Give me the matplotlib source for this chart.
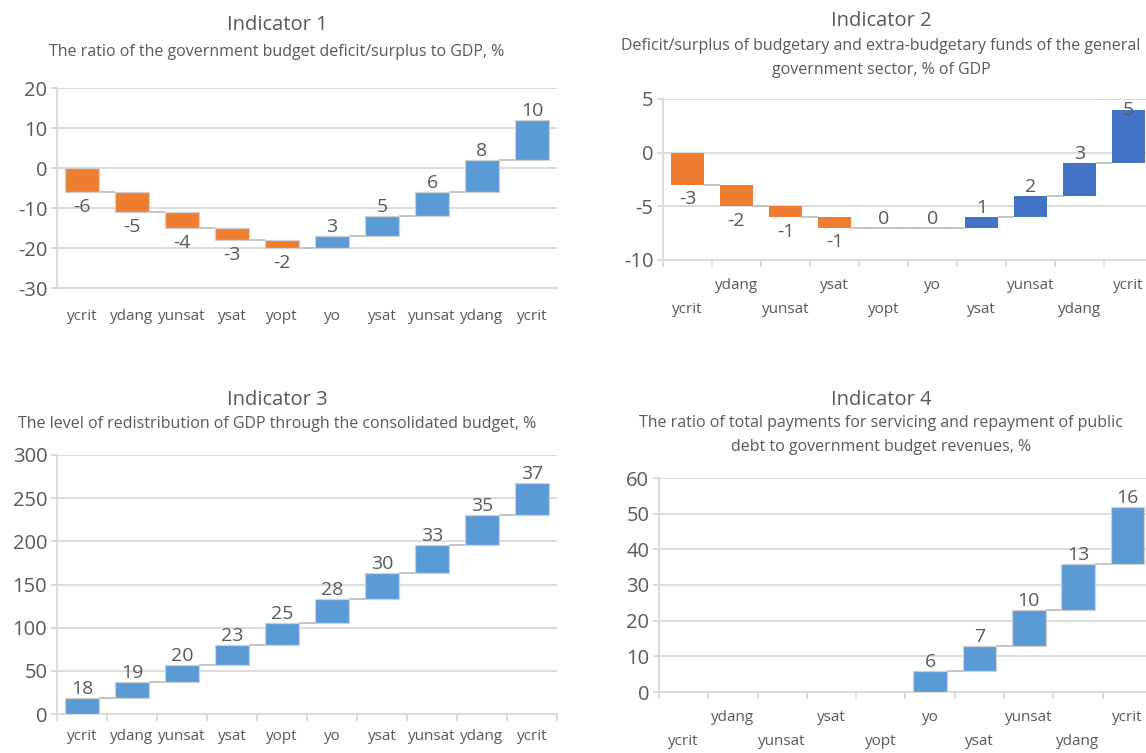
import matplotlib
matplotlib.use('Agg')
import matplotlib.pyplot as plt
import numpy as np

plt.rcParams['font.family'] = ['Open Sans', 'DejaVu Sans']

W, H = 1146, 753

categories = ['ycrit', 'ydang', 'yunsat', 'ysat', 'yopt', 'yo', 'ysat', 'yunsat', 'ydang', 'ycrit']

ind1_values = [-6, -5, -4, -3, -2, 3, 5, 6, 8, 10]
ind2_values = [-3, -2, -1, -1, 0, 0, 1, 2, 3, 5]
ind3_values = [18, 19, 20, 23, 25, 28, 30, 33, 35, 37]
ind4_values = [0, 0, 0, 0, 0, 6, 7, 10, 13, 16]

ind1_yticks = [-30, -20, -10, 0, 10, 20]
ind2_yticks = [-10, -5, 0, 5]
ind3_yticks = [0, 50, 100, 150, 200, 250, 300]
ind4_yticks = [0, 10, 20, 30, 40, 50, 60]

titles = ['Indicator 1', 'Indicator 2', 'Indicator 3', 'Indicator 4']
subtitles = [
    'The ratio of the government budget deficit/surplus to GDP, %',
    'Deficit/surplus of budgetary and extra-budgetary funds of the general\ngovernment sector, % of GDP',
    'The level of redistribution of GDP through the consolidated budget, %',
    'The ratio of total payments for servicing and repayment of public\ndebt to government budget revenues, %',
]

ORANGE = '#ED7D31'
BLUE = '#5B9BD5'
DBLUE = '#4472C4'
TXT = '#595959'
GRID = '#D9D9D9'


def px_box(l, r, t, b):
    return [l / W, 1 - b / H, (r - l) / W, (b - t) / H]


def waterfall(ax, values, yticks, pos_color, edge, show_zero=True,
              stagger=False, xticks_marks=True, label_pad=16):
    vals = np.array(values, dtype=float)
    ends = np.cumsum(vals)
    starts = ends - vals
    x = np.arange(len(vals))
    colors = [ORANGE if v < 0 else pos_color for v in vals]
    ax.bar(x, vals, bottom=starts, width=0.68, color=colors,
           edgecolor=edge, linewidth=0.9 if edge != 'none' else 0, zorder=3)
    # connectors
    for i in range(len(vals) - 1):
        ax.plot([x[i] + 0.34, x[i + 1] - 0.34], [ends[i], ends[i]],
                color='#BFBFBF', lw=1.3, zorder=2, solid_capstyle='butt')
    # zero-height bars show as a flat line
    for i, v in enumerate(vals):
        if v == 0:
            ax.plot([x[i] - 0.34, x[i] + 0.34], [ends[i], ends[i]],
                    color='#BFBFBF', lw=1.3, zorder=2)
    ymax = yticks[-1]
    for i, v in enumerate(vals):
        if v == 0 and not show_zero:
            continue
        if v < 0:
            ax.annotate(f'{int(v)}', (x[i], ends[i]), xytext=(0, -4),
                        textcoords='offset points', ha='center', va='top',
                        fontsize=14, color=TXT, zorder=4)
        else:
            top = ends[i]
            if top + (ymax - yticks[0]) * 0.08 > ymax:
                ax.annotate(f'{int(v)}', (x[i], top), ha='center', va='center',
                            fontsize=14, color=TXT, zorder=4)
            else:
                ax.annotate(f'{int(v)}', (x[i], top), xytext=(0, 0),
                            textcoords='offset points', ha='center', va='bottom',
                            fontsize=14, color=TXT, zorder=4)
    ax.set_xlim(-0.5, len(vals) - 0.5)
    ax.set_ylim(yticks[0], yticks[-1])
    ax.set_yticks(yticks)
    ax.set_yticklabels([str(t) for t in yticks])
    ax.tick_params(axis='y', labelsize=14.5, colors=GRID, labelcolor=TXT,
                   length=4, width=1.3, pad=3)
    ax.set_xticks(x)
    ax.set_xticklabels(categories)
    ax.tick_params(axis='x', which='major', length=0, labelsize=11,
                   labelcolor=TXT, pad=label_pad)
    if xticks_marks:
        ax.set_xticks(np.arange(len(vals) + 1) - 0.5, minor=True)
        ax.tick_params(axis='x', which='minor', length=5, width=1.3, colors=GRID)
    if stagger:
        for i, tk in enumerate(ax.xaxis.get_major_ticks()):
            tk.set_pad(label_pad if i % 2 == 1 else label_pad + 17)
    ax.grid(axis='y', color=GRID, lw=1.3, zorder=0)
    ax.set_axisbelow(True)
    for s in ['top', 'right']:
        ax.spines[s].set_visible(False)
    ax.spines['left'].set_color(GRID)
    ax.spines['left'].set_linewidth(1.3)
    ax.spines['bottom'].set_color(GRID)
    ax.spines['bottom'].set_linewidth(1.3)


fig = plt.figure(figsize=(W / 100, H / 100), dpi=100)

ax1 = fig.add_axes(px_box(57, 557, 88, 288))
waterfall(ax1, ind1_values, ind1_yticks, BLUE, '#D0D0D0', xticks_marks=False, label_pad=15)

ax2 = fig.add_axes(px_box(663, 1153, 99, 260))
waterfall(ax2, ind2_values, ind2_yticks, DBLUE, 'none', stagger=True, label_pad=13)

ax3 = fig.add_axes(px_box(57, 557, 455, 714))
waterfall(ax3, ind3_values, ind3_yticks, BLUE, '#D0D0D0', label_pad=11)

ax4 = fig.add_axes(px_box(659, 1152, 478, 692))
waterfall(ax4, ind4_values, ind4_yticks, BLUE, '#D0D0D0', show_zero=False,
          stagger=True, label_pad=13)

title_pos = [(277, 25, 52), (881, 21, 58), (277, 400, 424), (881, 400, 435)]
for (cx, ty, sy), t, s in zip(title_pos, titles, subtitles):
    fig.text(cx / W, 1 - ty / H, t, ha='center', va='center', fontsize=14.5, color=TXT)
    fig.text(cx / W, 1 - sy / H, s, ha='center', va='center', fontsize=11.5,
             color=TXT, linespacing=1.6)

fig.savefig('out.png', dpi=100)
